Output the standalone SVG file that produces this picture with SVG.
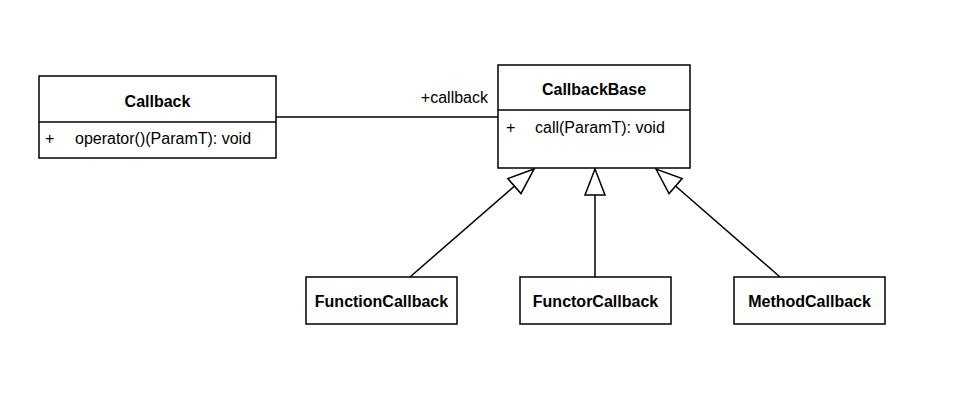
<svg xmlns="http://www.w3.org/2000/svg" width="964" height="408" viewBox="0 0 964 408">
<defs>
<style>
.box{fill:#fff;stroke:#000;stroke-width:1.5}
.ln{stroke:#000;stroke-width:1.5;fill:none}
.t{font-family:"Liberation Sans",Arial,sans-serif;font-size:16px;fill:#000}
.b{font-weight:bold;text-anchor:middle}
</style>
<marker id="gen" markerUnits="userSpaceOnUse" markerWidth="30" markerHeight="24" viewBox="0 0 30 24" refX="28" refY="12" orient="auto">
<path d="M28,12 L2,2 L2,22 Z" fill="#fff" stroke="#000" stroke-width="1.5"/>
</marker>
</defs>
<rect width="964" height="408" fill="#fff"/>
<g id="connectors">
<line class="ln" x1="276" y1="117" x2="498" y2="117"/>
<text class="t" x="488" y="103" text-anchor="end">+callback</text>
<line class="ln" x1="410" y1="277" x2="534" y2="169" marker-end="url(#gen)"/>
<line class="ln" x1="595" y1="277" x2="595" y2="169" marker-end="url(#gen)"/>
<line class="ln" x1="780" y1="277" x2="656" y2="169" marker-end="url(#gen)"/>
</g>
<g id="Callback">
<rect class="box" x="39" y="76" width="237" height="82"/>
<line class="ln" x1="39" y1="122" x2="276" y2="122"/>
<text class="t b" x="157.5" y="107">Callback</text>
<text class="t" x="45" y="144">+</text>
<text class="t" x="75" y="144">operator()(ParamT): void</text>
</g>
<g id="CallbackBase">
<rect class="box" x="498" y="65" width="192" height="103"/>
<line class="ln" x1="498" y1="110" x2="690" y2="110"/>
<text class="t b" x="594" y="95">CallbackBase</text>
<text class="t" x="506" y="133">+</text>
<text class="t" x="535" y="133">call(ParamT): void</text>
</g>
<g id="FunctionCallback">
<rect class="box" x="306" y="277" width="151" height="47"/>
<text class="t b" x="381.5" y="307">FunctionCallback</text>
</g>
<g id="FunctorCallback">
<rect class="box" x="520" y="277" width="151" height="47"/>
<text class="t b" x="595.5" y="307">FunctorCallback</text>
</g>
<g id="MethodCallback">
<rect class="box" x="734" y="277" width="151" height="47"/>
<text class="t b" x="809.5" y="307">MethodCallback</text>
</g>
</svg>
